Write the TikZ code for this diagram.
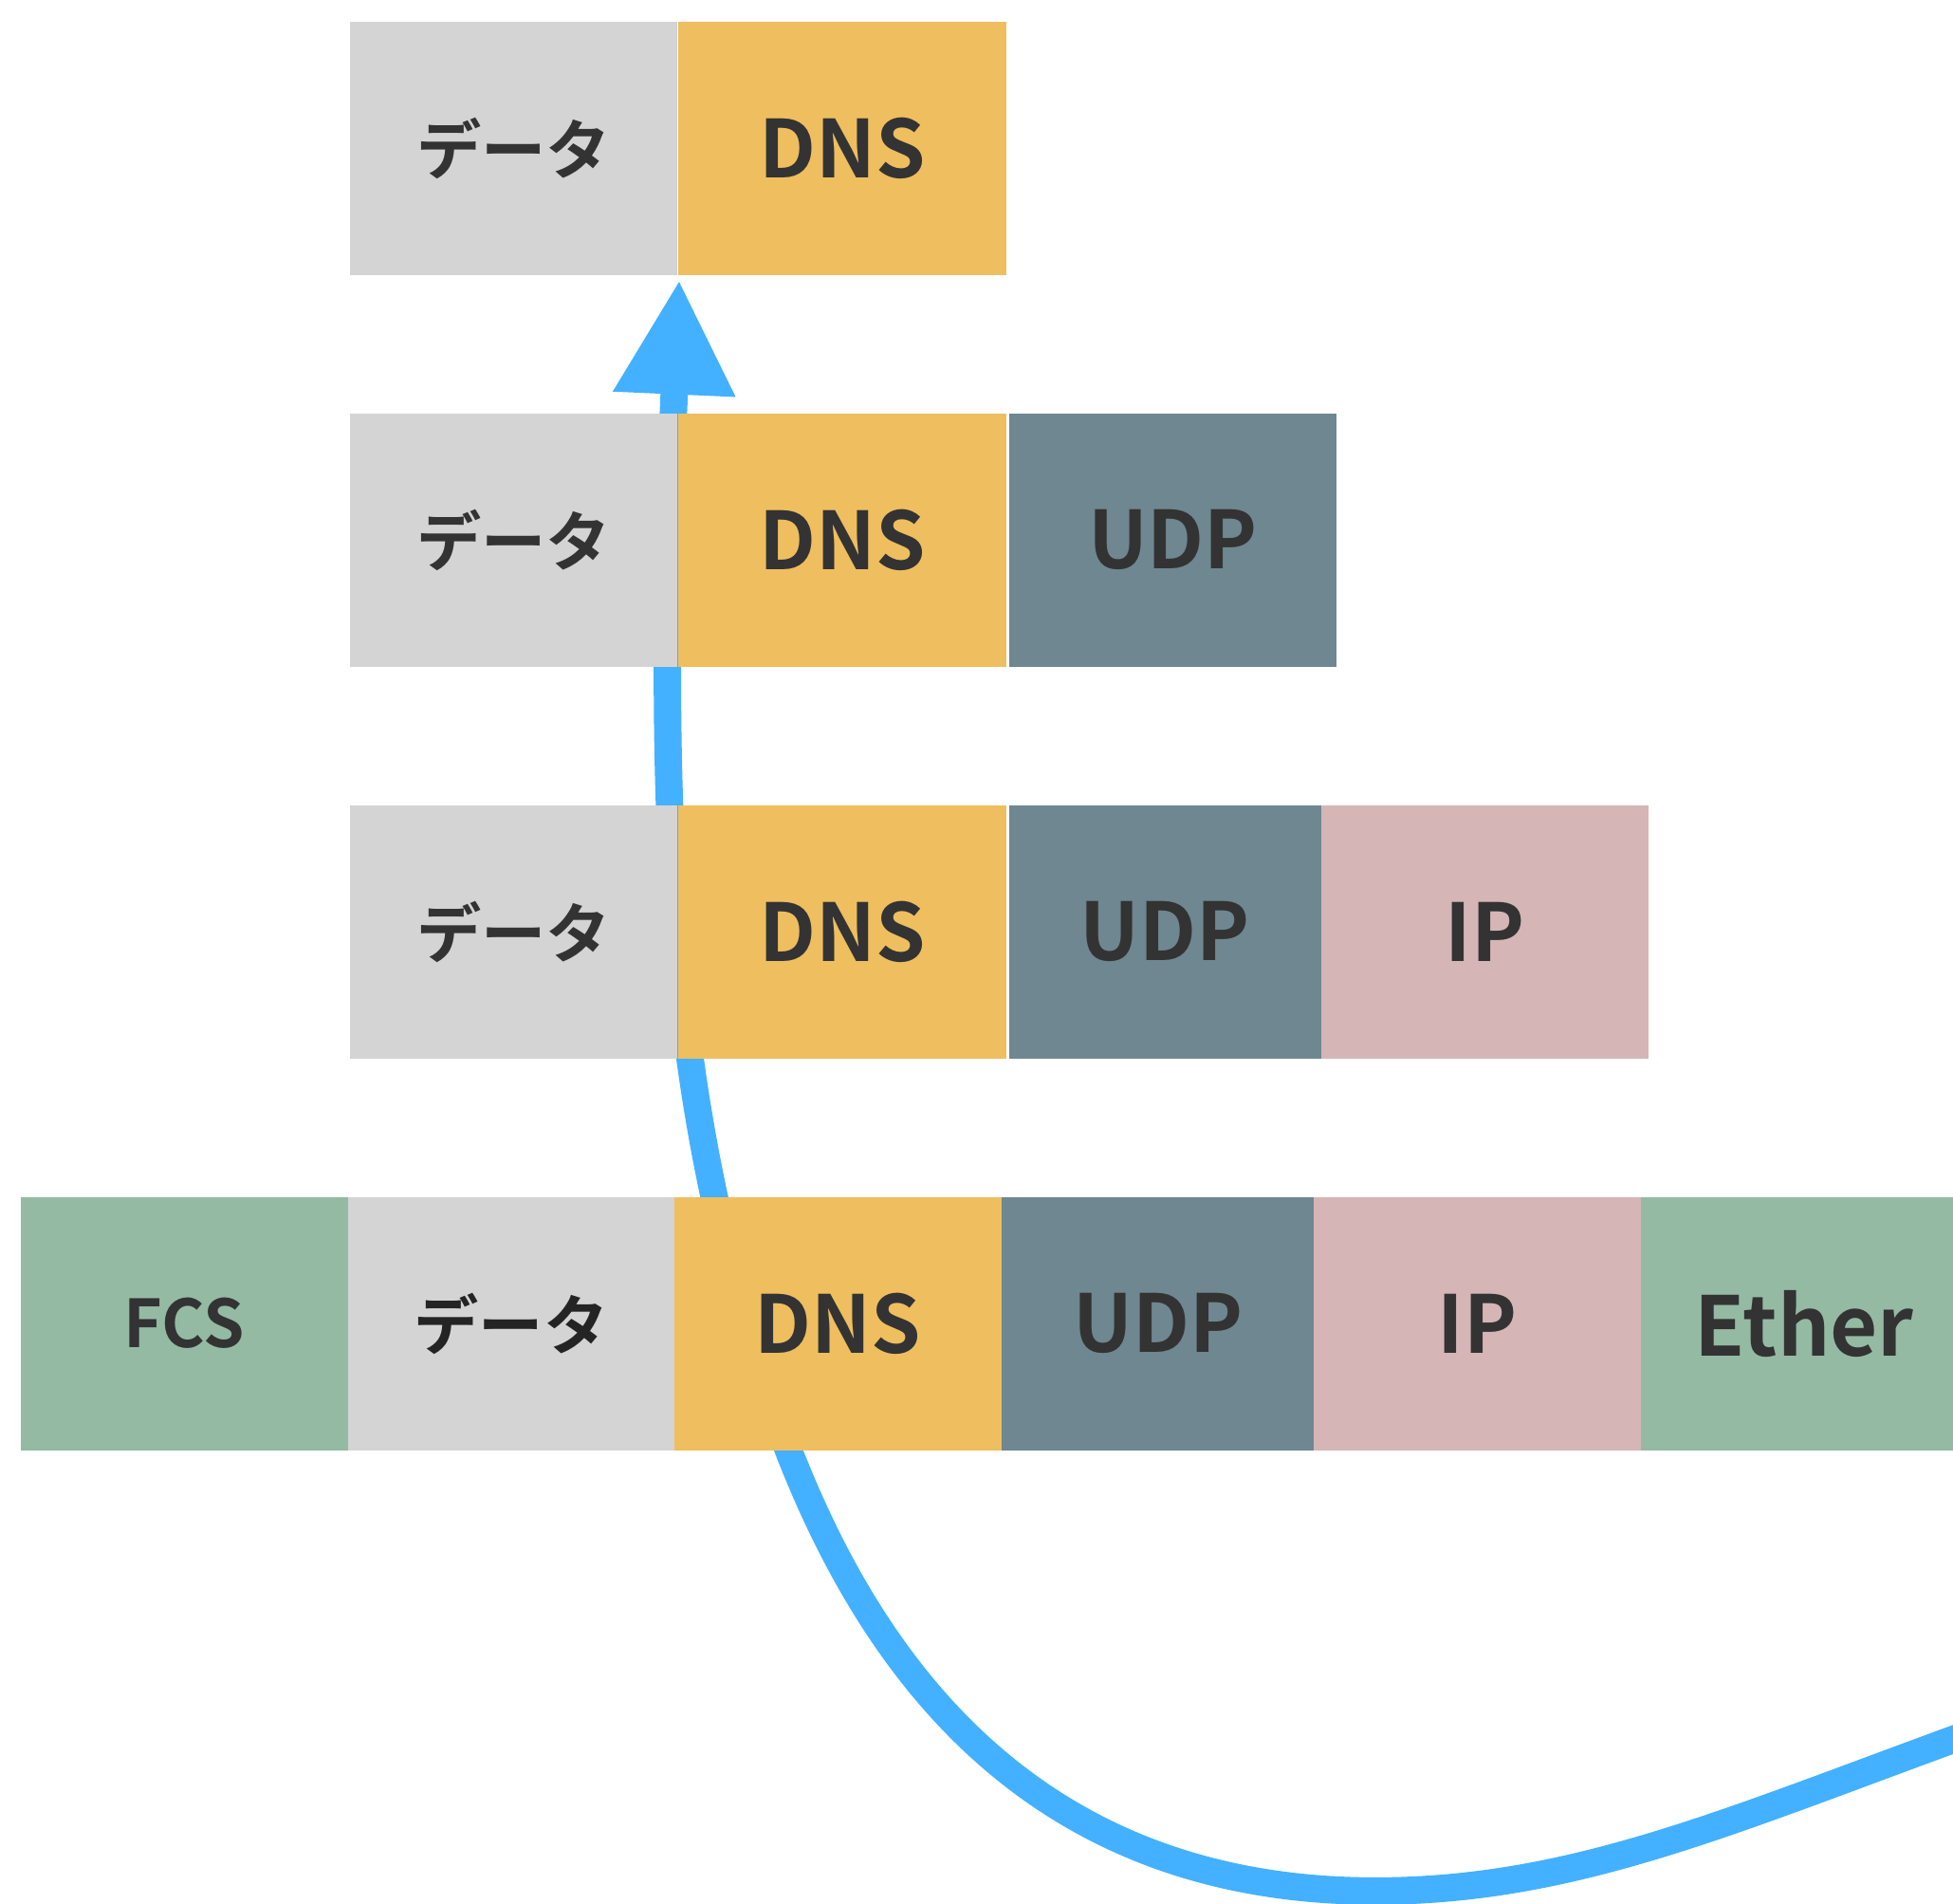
\documentclass[tikz,border=0pt]{standalone}
\usepackage{fontspec}
\setmainfont{Noto Sans CJK JP}[BoldFont={Noto Sans CJK JP Bold}]
\usetikzlibrary{arrows.meta,calc}
\definecolor{cgray}{HTML}{D4D4D4}
\definecolor{corange}{HTML}{EFBE5F}
\definecolor{cslate}{HTML}{6E8790}
\definecolor{cpink}{HTML}{D5B5B6}
\definecolor{cgreen}{HTML}{94BAA3}
\definecolor{cblue}{HTML}{43B1FF}
\definecolor{ctext}{HTML}{333333}
\tikzset{
  seg/.style={anchor=north west, inner sep=0pt, outer sep=0pt, minimum height=203pt, text=ctext, font=\bfseries\fontsize{64}{68}\selectfont},
  jp/.style={font=\bfseries\fontsize{52}{56}\selectfont},
  small/.style={font=\bfseries\fontsize{53}{56}\selectfont},
  conn/.style={draw=cblue, line width=22pt, -{Triangle[length=92pt,width=92pt]}, fill=none}
}
\begin{document}
\begin{tikzpicture}[x=1pt,y=-1pt]
\useasboundingbox (0,0) rectangle (1568,1528);
\clip (0,0) rectangle (1568,1528);
\fill[white] (0,0) rectangle (1568,1528);
% free end of the connector (outside the picture) and its target point
\coordinate (src) at (1728,1341);
\coordinate (bend) at (1104,1518);
\coordinate (mid) at (633,1164);
\coordinate (tip) at (545.3,224.6);
% connector (drawn first, boxes lie over it)
\draw[conn] (src) .. controls (1443,1433) and (1300,1518) .. (bend)
  .. controls (824,1518) and (698,1331) .. (mid)
  .. controls (545,925) and (524,710) .. (tip);
% row 1
\node[seg, jp, fill=cgray, minimum width=262.7pt] (r1data) at (281.2,17.5) {データ};
\node[seg, fill=corange, minimum width=263.3pt] (r1dns) at (544.7,17.5) {DNS};
% row 2
\node[seg, jp, fill=cgray, minimum width=262.7pt] (r2data) at (281.2,332) {データ};
\node[seg, fill=corange, minimum width=263.3pt] (r2dns) at (544.7,332) {DNS};
\node[seg, fill=cslate, minimum width=262.7pt] (r2udp) at (810.3,332) {UDP};
% row 3
\node[seg, jp, fill=cgray, minimum width=262.7pt] (r3data) at (281.2,646.5) {データ};
\node[seg, fill=corange, minimum width=263.3pt] (r3dns) at (544.7,646.5) {DNS};
\node[seg, fill=cslate, minimum width=250.2pt] (r3udp) at (810.3,646.5) {UDP};
\node[seg, fill=cpink, minimum width=263pt] (r3ip) at (1060.5,646.5) {IP};
% row 4
\node[seg, small, fill=cgreen, minimum width=262.8pt] (r4fcs) at (16.6,961) {FCS};
\node[seg, jp, fill=cgray, minimum width=262.1pt, text=black!86] (r4data) at (279.4,961) {データ};
\node[seg, fill=corange, minimum width=262.7pt] (r4dns) at (541.5,961) {DNS};
\node[seg, fill=cslate, minimum width=250.7pt] (r4udp) at (804.2,961) {UDP};
\node[seg, fill=cpink, minimum width=262.4pt] (r4ip) at (1054.9,961) {IP};
\node[seg, fill=cgreen, minimum width=262.7pt, font=\bfseries\fontsize{66}{70}\selectfont] (r4eth) at (1317.3,961) {Ether};
\end{tikzpicture}
\end{document}
